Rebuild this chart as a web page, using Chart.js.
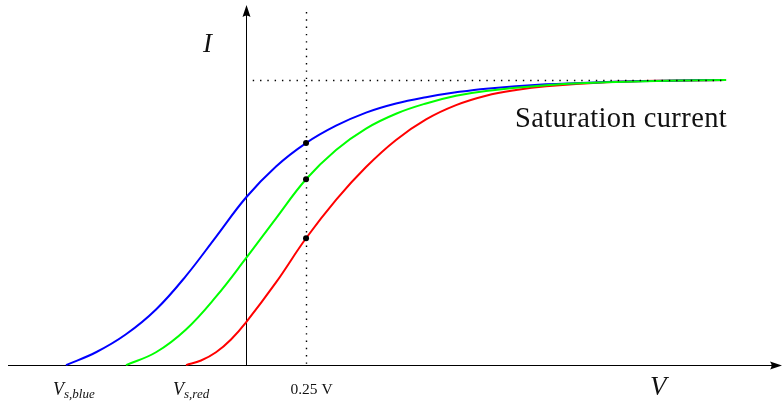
<!DOCTYPE html>
<html>
<head>
<meta charset="utf-8">
<script src="https://cdn.jsdelivr.net/npm/chart.js@4.4.1/dist/chart.umd.min.js"></script>
<style>
  html, body { margin: 0; padding: 0; background: #fff; }
  #wrap { width: 782px; height: 401px; position: relative; }
</style>
</head>
<body>
<div id="wrap"><canvas id="ivChart"></canvas></div>
<script>
// I-V curves (V in volts, I relative to saturation current)
const vBlue = [-0.75, -0.625, -0.5, -0.375, -0.25, -0.125, 0, 0.125, 0.25, 0.375, 0.5, 0.625, 0.75, 0.875, 1.0, 1.25, 1.5, 1.75, 2.0];
const iBlue = [0, 0.045, 0.108, 0.195, 0.313, 0.45, 0.588, 0.697, 0.779, 0.84, 0.886, 0.918, 0.94, 0.957, 0.97, 0.985, 0.993, 0.998, 1.0];

const vGreen = [-0.5, -0.375, -0.25, -0.125, 0, 0.125, 0.25, 0.375, 0.5, 0.625, 0.75, 0.875, 1.0, 1.25, 1.5, 1.75, 2.0];
const iGreen = [0, 0.045, 0.125, 0.24, 0.375, 0.515, 0.652, 0.755, 0.83, 0.882, 0.918, 0.945, 0.962, 0.982, 0.992, 0.998, 1.0];

const vRed = [-0.25, -0.1875, -0.125, -0.0625, 0, 0.125, 0.25, 0.375, 0.5, 0.625, 0.75, 0.875, 1.0, 1.125, 1.25, 1.5, 1.75, 2.0];
const iRed = [0, 0.016, 0.045, 0.09, 0.15, 0.29, 0.445, 0.58, 0.695, 0.79, 0.862, 0.912, 0.945, 0.965, 0.978, 0.992, 0.998, 1.0];

// marked points on the 0.25 V line
const vMarked = [0.25, 0.25, 0.25];
const iMarked = [0.779, 0.652, 0.445];

const vMark = 0.25;
const iSat = 1.0;

const toPoints = (xs, ys) => xs.map((x, i) => ({ x: x, y: ys[i] }));

const SERIF = '"Liberation Serif", "DejaVu Serif", serif';

function arrowHead(ctx, x, y, dir) {
    // dir: 'right' or 'up'; tip at (x, y)
    const len = 12, half = 4;
    ctx.beginPath();
    if (dir === 'right') {
        ctx.moveTo(x, y);
        ctx.lineTo(x - len, y - half);
        ctx.quadraticCurveTo(x - len + 3, y, x - len, y + half);
    } else {
        ctx.moveTo(x, y);
        ctx.lineTo(x - half, y + len);
        ctx.quadraticCurveTo(x, y + len - 3, x + half, y + len);
    }
    ctx.closePath();
    ctx.fill();
}

function subLabel(ctx, x, y, main, sub) {
    ctx.font = 'italic 18px ' + SERIF;
    ctx.fillText(main, x, y);
    const w = ctx.measureText(main).width;
    ctx.font = 'italic 13px ' + SERIF;
    ctx.fillText(sub, x + w, y + 3);
}

const decorations = {
    id: 'decorations',
    beforeDatasetsDraw(chart) {
        const { ctx, scales: { x, y } } = chart;
        const x0 = Math.round(x.getPixelForValue(0)) + 0.5;
        const y0 = Math.round(y.getPixelForValue(0)) + 0.5;
        ctx.save();
        ctx.strokeStyle = '#000';
        ctx.fillStyle = '#000';
        ctx.lineWidth = 1;
        // horizontal axis
        ctx.beginPath();
        ctx.moveTo(8, y0);
        ctx.lineTo(chart.width - 6, y0);
        ctx.stroke();
        arrowHead(ctx, chart.width, y0, 'right');
        // vertical axis
        ctx.beginPath();
        ctx.moveTo(x0, y0);
        ctx.lineTo(x0, 12);
        ctx.stroke();
        arrowHead(ctx, x0, 5, 'up');
        ctx.restore();
    },
    afterDatasetsDraw(chart) {
        const { ctx, scales: { x, y } } = chart;
        const xm = Math.round(x.getPixelForValue(vMark)) + 0.5;
        const ys = Math.round(y.getPixelForValue(iSat)) + 0.5;
        const y0 = y.getPixelForValue(0);
        ctx.save();
        ctx.strokeStyle = '#000';
        ctx.lineWidth = 1.4;
        ctx.setLineDash([1.4, 5.9]);
        ctx.beginPath();
        ctx.moveTo(xm, 12);
        ctx.lineTo(xm, y0);
        ctx.stroke();
        ctx.beginPath();
        ctx.moveTo(x.getPixelForValue(0.028), ys);
        ctx.lineTo(x.getPixelForValue(2.0), ys);
        ctx.stroke();
        ctx.setLineDash([]);

        // labels
        ctx.fillStyle = '#111';
        ctx.textBaseline = 'alphabetic';
        ctx.textAlign = 'left';
        ctx.font = 'italic 27px ' + SERIF;
        ctx.fillText('I', 203, 52);
        ctx.fillText('V', 650, 395);

        ctx.font = '28.5px ' + SERIF;
        ctx.letterSpacing = '0.4px';
        ctx.fillText('Saturation current', 515, 127);
        ctx.letterSpacing = '0px';

        subLabel(ctx, 53, 395, 'V', 's,blue');
        subLabel(ctx, 173, 395, 'V', 's,red');

        ctx.font = '15.5px ' + SERIF;
        ctx.textAlign = 'center';
        ctx.fillText('0.25 V', xm + 5, 394);
        ctx.restore();
    }
};

const curveStyle = {
    pointRadius: 0,
    borderWidth: 2,
    fill: false,
    tension: 0.4
};

new Chart(document.getElementById('ivChart'), {
    type: 'line',
    data: {
        datasets: [
            {
                type: 'scatter',
                data: toPoints(vMarked, iMarked),
                showLine: false,
                pointRadius: 3,
                pointBackgroundColor: '#000',
                pointBorderWidth: 0,
                order: 0
            },
            { ...curveStyle, data: toPoints(vGreen, iGreen), borderColor: '#00ff00', order: 1 },
            { ...curveStyle, data: toPoints(vBlue, iBlue), borderColor: '#0000ff', order: 2 },
            { ...curveStyle, data: toPoints(vRed, iRed), borderColor: '#ff0000', order: 3 }
        ]
    },
    options: {
        responsive: true,
        maintainAspectRatio: false,
        animation: false,
        layout: { padding: 0, autoPadding: false },
        plugins: {
            legend: { display: false },
            tooltip: { enabled: false }
        },
        scales: {
            x: { type: 'linear', display: false, min: -1.025, max: 2.233 },
            y: { type: 'linear', display: false, min: -0.126, max: 1.281 }
        }
    },
    plugins: [decorations]
});
</script>
</body>
</html>
